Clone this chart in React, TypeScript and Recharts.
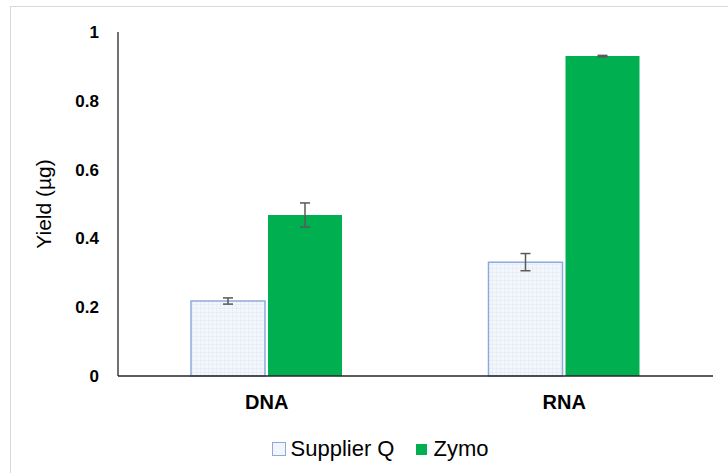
import { Bar, BarChart, XAxis, YAxis, Legend, ErrorBar, Label } from "recharts"

const categories = ["DNA", "RNA"]
const supplierQ = [0.218, 0.331]
const supplierQErr = [0.009, 0.025]
const zymo = [0.468, 0.93]
const zymoErr = [0.035, 0.002]
const yTicks = [0, 0.2, 0.4, 0.6, 0.8, 1]

const data = categories.map((name, i) => ({
  name,
  supplierQ: supplierQ[i],
  supplierQErr: supplierQErr[i],
  zymo: zymo[i],
  zymoErr: zymoErr[i],
}))

const font = "'Liberation Sans', Arial, sans-serif"

function LegendContent() {
  return (
    <div style={{ display: "flex", justifyContent: "center", alignItems: "center", fontFamily: font, fontSize: 22, color: "#000" }}>
      <span style={{ width: 12, height: 12, border: "1.5px solid #8eaadb", background: "#f2f6fc", marginRight: 5 }} />
      <span style={{ marginRight: 22 }}>Supplier Q</span>
      <span style={{ width: 11, height: 11, background: "#00b050", marginRight: 6 }} />
      <span>Zymo</span>
    </div>
  )
}

export default function App() {
  return (
    <div style={{ position: "absolute", left: 0, top: 0, width: 728, height: 473, background: "#fff" }}>
      <div style={{ position: "absolute", left: 10, top: 6, right: 0, bottom: 0, borderTop: "1px solid #d9d9d9", borderLeft: "1px solid #d9d9d9" }} />
      <BarChart
        width={728}
        height={473}
        data={data}
        margin={{ top: 32, right: 15, left: 0, bottom: 0 }}
        barGap={3}
        barSize={74}
        style={{ position: "absolute", left: 0, top: 0 }}
      >
        <defs>
          <pattern id="grid" width="4" height="4" patternUnits="userSpaceOnUse">
            <rect width="4" height="4" fill="#f3f7fc" />
            <path d="M0 0 H4 M0 0 V4" stroke="#dfe8f5" strokeWidth="1" />
          </pattern>
        </defs>
        <XAxis
          dataKey="name"
          height={97}
          axisLine={{ stroke: "#262626", strokeWidth: 1.3 }}
          tickLine={false}
          tickMargin={13}
          tick={{ fill: "#000", fontSize: 20, fontWeight: "bold", fontFamily: font }}
        />
        <YAxis
          width={118}
          domain={[0, 1]}
          ticks={yTicks}
          axisLine={{ stroke: "#262626", strokeWidth: 1.3 }}
          tickLine={false}
          tickMargin={13}
          tick={{ fill: "#000", fontSize: 17, fontWeight: "bold", fontFamily: font }}
        >
          <Label
            value="Yield (µg)"
            angle={-90}
            position="insideLeft"
            offset={44}
            style={{ fill: "#000", fontSize: 21, fontFamily: font, textAnchor: "middle" }}
          />
        </YAxis>
        <Legend
          verticalAlign="middle"
          layout="horizontal"
          wrapperStyle={{ top: 436, left: 16, width: 728 }}
          content={<LegendContent />}
        />
        <Bar dataKey="supplierQ" fill="url(#grid)" stroke="#8eaadb" strokeWidth={1.5} isAnimationActive={false}>
          <ErrorBar dataKey="supplierQErr" width={5} stroke="#595959" strokeWidth={1.5} />
        </Bar>
        <Bar dataKey="zymo" fill="#00b050" isAnimationActive={false}>
          <ErrorBar dataKey="zymoErr" width={5} stroke="#595959" strokeWidth={1.5} />
        </Bar>
      </BarChart>
    </div>
  )
}
